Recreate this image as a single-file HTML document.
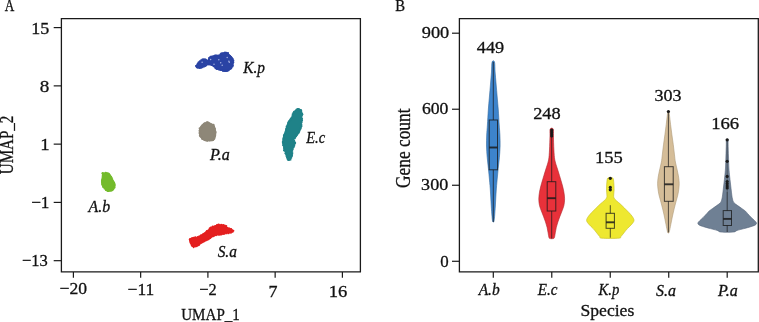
<!DOCTYPE html><html><head><meta charset="utf-8"><style>html,body{margin:0;padding:0;background:#fff;width:759px;height:322px;overflow:hidden}svg{display:block}text{font-family:"Liberation Serif",serif;fill:#111;stroke:#111;stroke-width:0.3px}</style></head><body>
<svg style="will-change:transform" width="759" height="322" viewBox="0 0 759 322">
<path d="M195.40,66.02 C195.48,65.44 196.02,64.78 196.52,64.16 C197.01,63.54 197.68,62.99 198.38,62.29 C199.08,61.60 199.93,60.51 200.71,59.97 C201.48,59.42 202.26,59.11 203.04,59.04 C203.81,58.96 204.66,59.35 205.36,59.50 C206.06,59.66 206.68,60.28 207.23,59.97 C207.77,59.66 208.00,58.26 208.62,57.64 C209.24,57.02 210.10,56.63 210.95,56.24 C211.80,55.85 212.89,55.54 213.74,55.31 C214.60,55.08 215.29,54.85 216.07,54.85 C216.85,54.85 217.62,55.47 218.40,55.31 C219.17,55.16 220.03,54.38 220.73,53.91 C221.42,53.45 221.81,52.83 222.59,52.52 C223.36,52.21 224.45,51.97 225.38,52.05 C226.31,52.13 227.40,52.52 228.18,52.98 C228.95,53.45 229.42,54.22 230.04,54.85 C230.66,55.47 231.36,56.01 231.90,56.71 C232.44,57.41 232.99,58.10 233.30,59.04 C233.61,59.97 233.76,61.21 233.76,62.29 C233.76,63.38 233.68,64.54 233.30,65.55 C232.91,66.56 232.21,67.49 231.43,68.35 C230.66,69.20 229.49,70.13 228.64,70.67 C227.79,71.22 227.17,71.53 226.31,71.61 C225.46,71.68 224.45,71.34 223.52,71.14 C222.59,70.94 221.66,70.63 220.73,70.39 C219.80,70.16 218.79,70.01 217.93,69.74 C217.08,69.48 216.23,69.20 215.61,68.81 C214.98,68.42 214.75,67.88 214.21,67.42 C213.67,66.95 213.04,66.41 212.35,66.02 C211.65,65.63 210.79,65.32 210.02,65.09 C209.24,64.85 208.31,64.54 207.69,64.62 C207.07,64.70 206.91,65.17 206.29,65.55 C205.67,65.94 204.82,66.56 203.97,66.95 C203.11,67.34 202.10,67.65 201.17,67.88 C200.24,68.11 199.23,68.39 198.38,68.35 C197.53,68.30 196.55,67.99 196.05,67.60 C195.56,67.21 195.32,66.59 195.40,66.02Z" fill="#2a43a4"/>
<g fill="#2a43a4"><circle cx="195.9" cy="65.9" r="0.9"/><circle cx="197.3" cy="64.1" r="0.8"/><circle cx="198.1" cy="63.2" r="0.9"/><circle cx="198.6" cy="62.3" r="1.0"/><circle cx="199.8" cy="61.2" r="1.0"/><circle cx="201.0" cy="60.0" r="0.8"/><circle cx="202.4" cy="59.6" r="1.1"/><circle cx="203.3" cy="59.1" r="0.9"/><circle cx="204.9" cy="59.5" r="1.2"/><circle cx="206.0" cy="59.7" r="1.0"/><circle cx="208.3" cy="60.3" r="0.8"/><circle cx="208.8" cy="59.3" r="0.9"/><circle cx="208.9" cy="57.8" r="0.8"/><circle cx="210.1" cy="57.3" r="1.1"/><circle cx="211.1" cy="56.6" r="1.0"/><circle cx="212.6" cy="56.5" r="0.9"/><circle cx="213.8" cy="56.0" r="0.8"/><circle cx="214.9" cy="55.3" r="0.9"/><circle cx="215.9" cy="55.6" r="1.0"/><circle cx="217.1" cy="55.5" r="1.0"/><circle cx="218.1" cy="55.9" r="0.9"/><circle cx="219.1" cy="55.4" r="1.1"/><circle cx="220.5" cy="54.3" r="1.0"/><circle cx="221.3" cy="53.8" r="1.2"/><circle cx="222.1" cy="53.2" r="0.9"/><circle cx="223.3" cy="53.1" r="0.8"/><circle cx="225.0" cy="52.5" r="1.1"/><circle cx="226.5" cy="52.7" r="1.0"/><circle cx="228.0" cy="53.1" r="1.1"/><circle cx="228.3" cy="54.4" r="1.0"/><circle cx="229.2" cy="55.3" r="0.9"/><circle cx="230.2" cy="56.1" r="1.0"/><circle cx="231.2" cy="56.9" r="1.0"/><circle cx="231.7" cy="58.1" r="1.2"/><circle cx="232.7" cy="59.1" r="1.1"/><circle cx="233.3" cy="60.7" r="1.1"/><circle cx="233.0" cy="62.3" r="1.2"/><circle cx="232.6" cy="63.8" r="0.9"/><circle cx="232.8" cy="65.5" r="1.1"/><circle cx="232.5" cy="66.4" r="1.0"/><circle cx="231.7" cy="67.3" r="0.8"/><circle cx="231.2" cy="68.3" r="1.1"/><circle cx="230.2" cy="69.0" r="0.9"/><circle cx="229.1" cy="69.6" r="1.1"/><circle cx="228.4" cy="70.5" r="1.0"/><circle cx="226.9" cy="70.7" r="1.2"/><circle cx="225.6" cy="71.0" r="1.1"/><circle cx="224.6" cy="71.1" r="1.0"/><circle cx="223.1" cy="70.8" r="1.2"/><circle cx="221.4" cy="70.0" r="0.9"/><circle cx="220.5" cy="70.1" r="0.9"/><circle cx="219.1" cy="69.7" r="1.0"/><circle cx="217.6" cy="69.1" r="0.9"/><circle cx="216.7" cy="69.1" r="1.0"/><circle cx="215.5" cy="68.3" r="1.0"/><circle cx="214.3" cy="66.4" r="1.1"/><circle cx="213.5" cy="66.1" r="1.0"/><circle cx="212.8" cy="65.4" r="0.8"/><circle cx="211.9" cy="64.9" r="1.1"/><circle cx="210.9" cy="64.6" r="1.1"/><circle cx="209.4" cy="64.6" r="1.0"/><circle cx="208.0" cy="64.5" r="1.1"/><circle cx="206.5" cy="65.5" r="0.8"/><circle cx="205.5" cy="66.1" r="0.9"/><circle cx="204.4" cy="66.8" r="0.8"/><circle cx="202.8" cy="67.3" r="0.9"/><circle cx="201.4" cy="67.8" r="0.9"/><circle cx="200.0" cy="68.0" r="1.1"/><circle cx="199.1" cy="68.1" r="0.9"/><circle cx="197.6" cy="67.8" r="0.9"/><circle cx="196.6" cy="67.5" r="0.8"/></g>
<path d="M207.50,121.50 C208.41,121.50 208.93,122.48 209.76,122.85 C210.58,123.23 211.63,123.23 212.46,123.75 C213.28,124.28 214.18,125.03 214.71,126.00 C215.23,126.98 215.38,128.40 215.61,129.60 C215.83,130.81 216.06,132.01 216.06,133.21 C216.06,134.41 215.91,135.68 215.61,136.81 C215.31,137.93 215.01,139.24 214.26,139.96 C213.51,140.68 212.23,140.90 211.11,141.13 C209.98,141.35 208.71,141.40 207.50,141.31 C206.30,141.22 204.95,141.04 203.90,140.59 C202.85,140.14 201.95,139.46 201.20,138.61 C200.45,137.75 199.78,136.58 199.40,135.46 C199.03,134.33 198.95,133.06 198.95,131.86 C198.95,130.66 198.95,129.38 199.40,128.25 C199.85,127.13 200.83,126.00 201.65,125.10 C202.48,124.20 203.38,123.45 204.35,122.85 C205.33,122.25 206.60,121.50 207.50,121.50Z" fill="#8e8778"/>
<g fill="#8e8778"><circle cx="207.5" cy="122.5" r="1.2"/><circle cx="208.6" cy="122.8" r="1.0"/><circle cx="209.7" cy="123.1" r="0.8"/><circle cx="210.9" cy="123.8" r="0.9"/><circle cx="212.0" cy="124.6" r="0.9"/><circle cx="213.4" cy="125.0" r="1.2"/><circle cx="214.2" cy="126.4" r="0.9"/><circle cx="214.4" cy="127.6" r="0.8"/><circle cx="214.7" cy="128.7" r="1.2"/><circle cx="214.7" cy="129.9" r="1.1"/><circle cx="215.3" cy="130.9" r="0.9"/><circle cx="215.6" cy="132.0" r="1.1"/><circle cx="215.4" cy="133.1" r="1.1"/><circle cx="215.4" cy="134.2" r="0.9"/><circle cx="214.9" cy="135.2" r="1.2"/><circle cx="214.8" cy="136.3" r="1.1"/><circle cx="214.4" cy="137.3" r="1.1"/><circle cx="214.4" cy="138.6" r="1.0"/><circle cx="213.9" cy="139.5" r="0.8"/><circle cx="213.1" cy="140.2" r="0.9"/><circle cx="212.0" cy="140.3" r="1.1"/><circle cx="210.8" cy="140.1" r="1.0"/><circle cx="209.7" cy="140.2" r="1.2"/><circle cx="208.6" cy="140.2" r="0.9"/><circle cx="207.5" cy="140.9" r="0.9"/><circle cx="206.4" cy="140.7" r="0.9"/><circle cx="205.3" cy="140.1" r="1.2"/><circle cx="204.3" cy="139.7" r="1.0"/><circle cx="203.4" cy="139.2" r="1.1"/><circle cx="202.3" cy="139.0" r="1.1"/><circle cx="201.9" cy="137.9" r="1.1"/><circle cx="201.3" cy="137.0" r="1.0"/><circle cx="200.3" cy="136.3" r="1.1"/><circle cx="199.9" cy="135.3" r="1.1"/><circle cx="200.3" cy="133.9" r="1.0"/><circle cx="199.7" cy="133.0" r="1.2"/><circle cx="199.8" cy="131.8" r="0.9"/><circle cx="199.4" cy="130.7" r="0.9"/><circle cx="200.2" cy="129.7" r="1.1"/><circle cx="199.7" cy="128.4" r="1.1"/><circle cx="201.1" cy="127.7" r="1.1"/><circle cx="201.3" cy="126.5" r="1.0"/><circle cx="201.9" cy="125.3" r="0.8"/><circle cx="203.2" cy="125.2" r="1.1"/><circle cx="203.8" cy="124.2" r="1.2"/><circle cx="204.6" cy="123.4" r="1.1"/><circle cx="205.6" cy="123.3" r="0.9"/><circle cx="206.5" cy="122.4" r="0.9"/></g>
<path d="M298.90,108.60 C299.62,108.75 300.43,109.03 301.00,109.90 C301.57,110.77 302.15,112.57 302.30,113.80 C302.45,115.03 301.90,116.28 301.90,117.30 C301.90,118.32 302.37,118.88 302.30,119.90 C302.23,120.92 301.57,122.38 301.50,123.40 C301.43,124.42 302.05,124.98 301.90,126.00 C301.75,127.02 301.03,128.42 300.60,129.50 C300.17,130.58 299.82,131.62 299.30,132.50 C298.78,133.38 298.03,133.95 297.50,134.80 C296.97,135.65 296.72,136.75 296.10,137.60 C295.48,138.45 293.95,138.97 293.80,139.90 C293.65,140.83 295.12,142.18 295.20,143.20 C295.28,144.22 294.62,145.15 294.30,146.00 C293.98,146.85 293.68,147.53 293.30,148.30 C292.92,149.07 292.15,149.75 292.00,150.60 C291.85,151.45 292.40,152.32 292.40,153.40 C292.40,154.48 292.30,156.02 292.00,157.10 C291.70,158.18 291.15,159.28 290.60,159.90 C290.05,160.52 289.25,160.95 288.70,160.80 C288.15,160.65 287.68,159.77 287.30,159.00 C286.92,158.23 286.78,157.28 286.40,156.20 C286.02,155.12 285.40,153.43 285.00,152.50 C284.60,151.57 284.23,151.38 284.00,150.60 C283.77,149.82 283.82,148.88 283.60,147.80 C283.38,146.72 282.85,145.33 282.70,144.10 C282.55,142.87 282.63,141.63 282.70,140.40 C282.77,139.17 282.85,137.85 283.10,136.70 C283.35,135.55 283.82,134.70 284.20,133.50 C284.58,132.30 284.98,130.90 285.40,129.50 C285.82,128.10 286.20,126.48 286.70,125.10 C287.20,123.72 287.82,122.22 288.40,121.20 C288.98,120.18 289.55,119.93 290.20,119.00 C290.85,118.07 291.80,116.68 292.30,115.60 C292.80,114.52 292.47,113.60 293.20,112.50 C293.93,111.40 295.75,109.65 296.70,109.00 C297.65,108.35 298.18,108.45 298.90,108.60Z" fill="#1f8288"/>
<g fill="#1f8288"><circle cx="298.8" cy="109.0" r="1.0"/><circle cx="299.8" cy="109.7" r="1.0"/><circle cx="300.9" cy="110.2" r="1.2"/><circle cx="301.3" cy="111.7" r="1.0"/><circle cx="301.6" cy="113.2" r="1.2"/><circle cx="302.1" cy="114.3" r="1.2"/><circle cx="301.9" cy="115.6" r="1.0"/><circle cx="301.7" cy="116.7" r="0.8"/><circle cx="301.6" cy="117.8" r="0.9"/><circle cx="302.0" cy="118.8" r="1.1"/><circle cx="302.1" cy="120.2" r="1.0"/><circle cx="301.6" cy="121.8" r="1.0"/><circle cx="301.5" cy="122.6" r="1.0"/><circle cx="301.1" cy="124.0" r="1.1"/><circle cx="301.5" cy="124.9" r="1.0"/><circle cx="301.6" cy="126.3" r="0.9"/><circle cx="300.8" cy="127.8" r="1.0"/><circle cx="300.5" cy="128.8" r="1.1"/><circle cx="299.8" cy="130.1" r="1.0"/><circle cx="299.3" cy="131.4" r="1.0"/><circle cx="298.7" cy="132.7" r="1.1"/><circle cx="297.8" cy="133.8" r="1.0"/><circle cx="296.9" cy="134.8" r="1.2"/><circle cx="296.0" cy="136.0" r="1.2"/><circle cx="295.2" cy="137.0" r="0.9"/><circle cx="294.5" cy="138.2" r="1.2"/><circle cx="293.5" cy="139.0" r="0.9"/><circle cx="294.2" cy="140.7" r="1.0"/><circle cx="294.6" cy="141.8" r="0.9"/><circle cx="295.1" cy="142.9" r="1.1"/><circle cx="294.5" cy="143.7" r="1.2"/><circle cx="294.2" cy="145.7" r="1.1"/><circle cx="293.7" cy="146.4" r="0.9"/><circle cx="293.2" cy="147.3" r="1.2"/><circle cx="292.6" cy="149.1" r="1.2"/><circle cx="292.0" cy="150.0" r="1.0"/><circle cx="292.2" cy="150.9" r="1.1"/><circle cx="292.4" cy="153.1" r="1.0"/><circle cx="292.3" cy="154.0" r="0.9"/><circle cx="292.1" cy="155.5" r="0.9"/><circle cx="292.0" cy="156.3" r="0.8"/><circle cx="291.3" cy="157.8" r="1.0"/><circle cx="290.6" cy="159.7" r="0.9"/><circle cx="288.8" cy="160.0" r="1.0"/><circle cx="288.0" cy="159.6" r="1.2"/><circle cx="287.5" cy="158.1" r="1.2"/><circle cx="286.9" cy="157.3" r="0.9"/><circle cx="286.5" cy="156.0" r="1.1"/><circle cx="286.1" cy="154.5" r="0.9"/><circle cx="285.7" cy="153.2" r="1.2"/><circle cx="285.4" cy="151.6" r="0.9"/><circle cx="284.2" cy="150.3" r="1.2"/><circle cx="284.2" cy="148.6" r="1.1"/><circle cx="283.8" cy="147.6" r="0.8"/><circle cx="283.8" cy="145.9" r="1.0"/><circle cx="283.2" cy="145.1" r="1.2"/><circle cx="283.3" cy="143.6" r="1.1"/><circle cx="282.9" cy="142.7" r="1.1"/><circle cx="282.9" cy="141.5" r="1.1"/><circle cx="283.2" cy="140.1" r="0.9"/><circle cx="283.5" cy="138.9" r="1.2"/><circle cx="283.4" cy="137.8" r="0.9"/><circle cx="283.8" cy="136.6" r="0.9"/><circle cx="283.8" cy="135.6" r="0.9"/><circle cx="284.1" cy="134.6" r="0.9"/><circle cx="284.7" cy="133.6" r="0.9"/><circle cx="285.4" cy="132.5" r="0.9"/><circle cx="285.6" cy="131.2" r="0.9"/><circle cx="285.8" cy="129.8" r="0.8"/><circle cx="286.0" cy="128.7" r="0.8"/><circle cx="286.6" cy="128.0" r="1.0"/><circle cx="286.6" cy="126.5" r="1.0"/><circle cx="287.2" cy="126.0" r="0.8"/><circle cx="287.7" cy="124.7" r="1.0"/><circle cx="288.1" cy="123.1" r="1.1"/><circle cx="288.6" cy="121.7" r="1.0"/><circle cx="289.5" cy="120.9" r="1.2"/><circle cx="290.3" cy="119.5" r="1.1"/><circle cx="291.0" cy="118.7" r="1.1"/><circle cx="291.6" cy="117.3" r="0.9"/><circle cx="292.3" cy="115.8" r="0.9"/><circle cx="292.7" cy="114.3" r="1.1"/><circle cx="293.2" cy="112.9" r="0.9"/><circle cx="294.1" cy="111.9" r="1.1"/><circle cx="294.8" cy="111.7" r="1.1"/><circle cx="295.8" cy="110.3" r="0.9"/><circle cx="296.6" cy="109.5" r="1.0"/><circle cx="297.7" cy="109.1" r="1.0"/></g>
<path d="M102.52,172.78 C103.10,172.45 104.48,172.45 105.57,172.52 C106.65,172.59 108.25,172.74 109.04,173.22 C109.84,173.70 109.84,174.67 110.35,175.39 C110.86,176.12 111.58,176.77 112.09,177.57 C112.59,178.36 112.96,179.30 113.39,180.17 C113.83,181.04 114.33,181.99 114.70,182.78 C115.06,183.58 115.57,184.16 115.57,184.96 C115.57,185.75 114.99,186.77 114.70,187.57 C114.41,188.36 114.41,189.12 113.83,189.74 C113.25,190.36 112.16,190.99 111.22,191.30 C110.28,191.62 109.12,191.77 108.17,191.65 C107.23,191.54 106.22,191.07 105.57,190.61 C104.91,190.14 104.70,189.45 104.26,188.87 C103.83,188.29 103.39,187.78 102.96,187.13 C102.52,186.48 101.94,185.75 101.65,184.96 C101.36,184.16 101.26,183.29 101.22,182.35 C101.17,181.41 101.22,180.25 101.39,179.30 C101.57,178.36 102.14,177.49 102.26,176.70 C102.38,175.90 102.04,175.17 102.09,174.52 C102.13,173.87 101.94,173.12 102.52,172.78Z" fill="#74bb2c"/>
<g fill="#74bb2c"><circle cx="102.7" cy="173.2" r="1.2"/><circle cx="104.4" cy="173.7" r="1.0"/><circle cx="105.7" cy="172.9" r="1.2"/><circle cx="106.8" cy="173.2" r="0.9"/><circle cx="107.9" cy="173.2" r="1.0"/><circle cx="108.9" cy="173.8" r="1.0"/><circle cx="109.6" cy="174.7" r="1.0"/><circle cx="110.3" cy="175.6" r="0.9"/><circle cx="111.1" cy="176.7" r="1.0"/><circle cx="111.9" cy="177.7" r="0.8"/><circle cx="112.3" cy="179.1" r="0.9"/><circle cx="112.7" cy="180.4" r="1.0"/><circle cx="113.2" cy="181.6" r="1.1"/><circle cx="113.9" cy="182.7" r="1.2"/><circle cx="114.6" cy="183.8" r="0.9"/><circle cx="114.5" cy="184.6" r="0.9"/><circle cx="114.4" cy="185.9" r="1.1"/><circle cx="114.5" cy="187.4" r="1.1"/><circle cx="113.5" cy="188.0" r="1.1"/><circle cx="113.3" cy="189.1" r="1.1"/><circle cx="112.4" cy="190.2" r="1.0"/><circle cx="111.0" cy="190.7" r="1.1"/><circle cx="109.5" cy="190.6" r="1.1"/><circle cx="108.1" cy="190.9" r="1.2"/><circle cx="106.9" cy="190.3" r="1.1"/><circle cx="105.7" cy="190.2" r="0.8"/><circle cx="104.4" cy="188.6" r="0.9"/><circle cx="103.2" cy="186.9" r="1.1"/><circle cx="102.9" cy="185.6" r="1.1"/><circle cx="102.3" cy="184.6" r="1.1"/><circle cx="102.1" cy="183.5" r="0.8"/><circle cx="102.1" cy="182.3" r="1.1"/><circle cx="101.9" cy="181.0" r="1.0"/><circle cx="102.1" cy="179.6" r="0.8"/><circle cx="102.5" cy="178.5" r="0.9"/><circle cx="102.4" cy="176.9" r="0.9"/><circle cx="102.6" cy="175.2" r="0.9"/></g>
<path d="M189.30,239.50 C189.68,239.03 190.60,238.48 191.60,238.10 C192.60,237.72 194.22,237.43 195.30,237.20 C196.38,236.97 197.10,237.08 198.10,236.70 C199.10,236.32 200.45,235.43 201.30,234.90 C202.15,234.37 202.50,234.05 203.20,233.50 C203.90,232.95 204.57,232.30 205.50,231.60 C206.43,230.90 207.93,230.07 208.80,229.30 C209.67,228.53 210.05,227.52 210.70,227.00 C211.35,226.48 211.90,226.50 212.70,226.20 C213.50,225.90 214.70,225.52 215.50,225.20 C216.30,224.88 216.72,224.42 217.50,224.30 C218.28,224.18 219.17,224.42 220.20,224.50 C221.23,224.58 222.67,224.57 223.70,224.80 C224.73,225.03 225.62,225.43 226.40,225.90 C227.18,226.37 227.72,227.22 228.40,227.60 C229.08,227.98 229.82,227.92 230.50,228.20 C231.18,228.48 231.93,228.90 232.50,229.30 C233.07,229.70 233.78,230.15 233.90,230.60 C234.02,231.05 233.65,231.65 233.20,232.00 C232.75,232.35 231.88,232.53 231.20,232.70 C230.52,232.87 229.78,232.88 229.10,233.00 C228.42,233.12 227.90,233.28 227.10,233.40 C226.30,233.52 225.22,233.53 224.30,233.70 C223.38,233.87 222.50,234.17 221.60,234.40 C220.70,234.63 219.70,234.93 218.90,235.10 C218.10,235.27 217.48,235.23 216.80,235.40 C216.12,235.57 215.40,235.83 214.80,236.10 C214.20,236.37 213.82,236.73 213.20,237.00 C212.58,237.27 211.92,237.20 211.10,237.70 C210.28,238.20 209.38,239.47 208.30,240.00 C207.22,240.53 205.68,240.43 204.60,240.90 C203.52,241.37 202.73,242.17 201.80,242.80 C200.87,243.43 199.93,244.08 199.00,244.70 C198.07,245.32 197.13,246.05 196.20,246.50 C195.27,246.95 194.17,247.40 193.40,247.40 C192.63,247.40 192.13,247.18 191.60,246.50 C191.07,245.82 190.58,244.23 190.20,243.30 C189.82,242.37 189.45,241.53 189.30,240.90 C189.15,240.27 188.92,239.97 189.30,239.50Z" fill="#e41f1f"/>
<g fill="#e41f1f"><circle cx="190.1" cy="239.3" r="1.2"/><circle cx="191.1" cy="238.7" r="1.0"/><circle cx="192.2" cy="238.0" r="1.1"/><circle cx="193.7" cy="237.7" r="1.0"/><circle cx="194.8" cy="237.4" r="0.8"/><circle cx="195.6" cy="237.1" r="0.9"/><circle cx="197.6" cy="236.8" r="0.9"/><circle cx="198.8" cy="236.6" r="0.8"/><circle cx="199.4" cy="236.1" r="0.9"/><circle cx="201.0" cy="235.4" r="1.1"/><circle cx="202.1" cy="234.9" r="0.9"/><circle cx="202.9" cy="234.2" r="1.0"/><circle cx="203.8" cy="233.6" r="0.8"/><circle cx="205.3" cy="232.8" r="0.9"/><circle cx="206.5" cy="232.1" r="1.2"/><circle cx="206.8" cy="231.0" r="1.0"/><circle cx="208.3" cy="230.8" r="1.2"/><circle cx="209.1" cy="229.8" r="0.9"/><circle cx="209.9" cy="228.5" r="1.2"/><circle cx="210.8" cy="227.4" r="1.0"/><circle cx="212.7" cy="226.5" r="1.0"/><circle cx="213.8" cy="226.7" r="0.9"/><circle cx="215.2" cy="226.1" r="1.0"/><circle cx="217.0" cy="225.2" r="1.1"/><circle cx="218.6" cy="224.7" r="1.2"/><circle cx="219.8" cy="225.0" r="0.8"/><circle cx="221.2" cy="224.7" r="1.0"/><circle cx="222.1" cy="225.1" r="0.9"/><circle cx="223.4" cy="225.0" r="0.9"/><circle cx="224.7" cy="225.6" r="1.1"/><circle cx="226.2" cy="226.0" r="1.1"/><circle cx="226.5" cy="227.2" r="0.8"/><circle cx="227.4" cy="228.0" r="1.1"/><circle cx="229.5" cy="228.5" r="0.9"/><circle cx="231.0" cy="228.9" r="1.0"/><circle cx="231.4" cy="229.6" r="1.0"/><circle cx="233.4" cy="230.7" r="1.0"/><circle cx="232.8" cy="232.1" r="0.8"/><circle cx="230.9" cy="232.7" r="1.1"/><circle cx="228.6" cy="233.0" r="1.2"/><circle cx="226.7" cy="233.4" r="0.9"/><circle cx="225.0" cy="233.6" r="0.9"/><circle cx="223.8" cy="233.7" r="1.2"/><circle cx="222.0" cy="234.1" r="1.1"/><circle cx="220.8" cy="234.4" r="1.2"/><circle cx="219.2" cy="234.7" r="1.0"/><circle cx="218.1" cy="235.0" r="0.8"/><circle cx="216.0" cy="235.3" r="1.0"/><circle cx="214.0" cy="235.7" r="1.1"/><circle cx="213.0" cy="236.6" r="0.8"/><circle cx="212.0" cy="236.3" r="0.9"/><circle cx="211.2" cy="237.1" r="0.9"/><circle cx="210.3" cy="238.0" r="1.1"/><circle cx="209.8" cy="238.3" r="0.9"/><circle cx="208.7" cy="239.3" r="0.9"/><circle cx="207.5" cy="239.8" r="1.0"/><circle cx="206.1" cy="240.4" r="0.9"/><circle cx="204.9" cy="240.6" r="1.2"/><circle cx="204.2" cy="241.1" r="0.9"/><circle cx="203.5" cy="241.5" r="1.2"/><circle cx="202.3" cy="242.4" r="0.9"/><circle cx="201.2" cy="243.2" r="0.8"/><circle cx="200.3" cy="243.7" r="0.8"/><circle cx="199.3" cy="244.4" r="0.9"/><circle cx="198.6" cy="244.9" r="1.2"/><circle cx="197.8" cy="245.4" r="1.0"/><circle cx="196.7" cy="246.2" r="1.0"/><circle cx="195.2" cy="246.6" r="0.9"/><circle cx="193.6" cy="247.3" r="0.9"/><circle cx="192.5" cy="246.0" r="0.9"/><circle cx="191.7" cy="245.1" r="1.1"/><circle cx="191.6" cy="244.0" r="0.9"/><circle cx="190.6" cy="243.1" r="0.9"/><circle cx="190.3" cy="241.9" r="1.0"/><circle cx="190.3" cy="240.6" r="1.1"/></g>
<g fill="#b8c2ea" fill-opacity="0.85"><circle cx="202.1" cy="62.3" r="0.75"/><circle cx="210.6" cy="59.6" r="0.75"/><circle cx="218.8" cy="59.7" r="0.75"/><circle cx="220.7" cy="62.7" r="0.75"/><circle cx="222.2" cy="65.3" r="0.75"/><circle cx="227.2" cy="57.5" r="0.75"/><circle cx="228.9" cy="61.2" r="0.75"/><circle cx="229.3" cy="62.3" r="0.75"/><circle cx="214" cy="64.2" r="0.75"/></g>
<path d="M61.4,18.6 H360.4 V271.9 H61.4 Z" fill="none" stroke="#1a1a1a" stroke-width="1.3"/>
<line x1="53.7" y1="27.60" x2="61.4" y2="27.60" stroke="#1a1a1a" stroke-width="1.2"/>
<line x1="53.7" y1="85.87" x2="61.4" y2="85.87" stroke="#1a1a1a" stroke-width="1.2"/>
<line x1="53.7" y1="144.14" x2="61.4" y2="144.14" stroke="#1a1a1a" stroke-width="1.2"/>
<line x1="53.7" y1="202.41" x2="61.4" y2="202.41" stroke="#1a1a1a" stroke-width="1.2"/>
<line x1="53.7" y1="260.68" x2="61.4" y2="260.68" stroke="#1a1a1a" stroke-width="1.2"/>
<line x1="73.40" y1="271.9" x2="73.40" y2="277.8" stroke="#1a1a1a" stroke-width="1.2"/>
<line x1="140.65" y1="271.9" x2="140.65" y2="277.8" stroke="#1a1a1a" stroke-width="1.2"/>
<line x1="207.90" y1="271.9" x2="207.90" y2="277.8" stroke="#1a1a1a" stroke-width="1.2"/>
<line x1="275.15" y1="271.9" x2="275.15" y2="277.8" stroke="#1a1a1a" stroke-width="1.2"/>
<line x1="342.40" y1="271.9" x2="342.40" y2="277.8" stroke="#1a1a1a" stroke-width="1.2"/>
<path d="M494.50,62.00 C495.00,63.67 494.83,68.33 495.10,72.00 C495.37,75.67 495.75,79.83 496.10,84.00 C496.45,88.17 496.83,92.67 497.20,97.00 C497.57,101.33 497.97,105.33 498.30,110.00 C498.63,114.67 498.93,120.83 499.20,125.00 C499.47,129.17 499.75,131.50 499.90,135.00 C500.05,138.50 500.18,142.27 500.10,146.00 C500.02,149.73 499.72,153.63 499.40,157.40 C499.08,161.17 498.58,164.83 498.20,168.60 C497.82,172.37 497.43,176.27 497.10,180.00 C496.77,183.73 496.48,186.83 496.20,191.00 C495.92,195.17 495.67,200.78 495.40,205.00 C495.13,209.22 494.85,213.55 494.60,216.30 C494.35,219.05 494.22,220.63 493.90,221.50 C493.58,222.37 493.02,222.37 492.70,221.50 C492.38,220.63 492.25,219.05 492.00,216.30 C491.75,213.55 491.47,209.22 491.20,205.00 C490.93,200.78 490.68,195.17 490.40,191.00 C490.12,186.83 489.83,183.73 489.50,180.00 C489.17,176.27 488.78,172.37 488.40,168.60 C488.02,164.83 487.52,161.17 487.20,157.40 C486.88,153.63 486.58,149.73 486.50,146.00 C486.42,142.27 486.55,138.50 486.70,135.00 C486.85,131.50 487.13,129.17 487.40,125.00 C487.67,120.83 487.97,114.67 488.30,110.00 C488.63,105.33 489.03,101.33 489.40,97.00 C489.77,92.67 490.15,88.17 490.50,84.00 C490.85,79.83 491.23,75.67 491.50,72.00 C491.77,68.33 491.60,63.67 492.10,62.00 C492.60,60.33 494.00,60.33 494.50,62.00Z" fill="#3d84cc" stroke="#33689c" stroke-width="0.6"/>
<line x1="493.3" y1="62" x2="493.3" y2="222" stroke="#1a1a1a" stroke-width="0.9" stroke-opacity="0.8"/>
<rect x="489.2" y="120" width="8.300000000000011" height="49.80000000000001" fill="#3d84cc" stroke="#1a1a1a" stroke-width="1" stroke-opacity="0.8"/>
<line x1="489.2" y1="147.5" x2="497.5" y2="147.5" stroke="#1a1a1a" stroke-width="1.9" stroke-opacity="0.85"/>
<path d="M553.20,129.00 C553.73,130.17 553.28,132.50 553.40,136.00 C553.52,139.50 553.67,146.00 553.90,150.00 C554.13,154.00 554.27,157.03 554.80,160.00 C555.33,162.97 556.32,165.22 557.10,167.80 C557.88,170.38 558.72,172.92 559.50,175.50 C560.28,178.08 561.10,180.72 561.80,183.30 C562.50,185.88 563.23,188.42 563.70,191.00 C564.17,193.58 564.57,196.38 564.60,198.80 C564.63,201.22 564.33,203.47 563.90,205.50 C563.47,207.53 562.67,209.18 562.00,211.00 C561.33,212.82 560.58,214.58 559.90,216.40 C559.22,218.22 558.50,220.07 557.90,221.90 C557.30,223.73 556.73,225.58 556.30,227.40 C555.87,229.22 555.62,231.10 555.30,232.80 C554.98,234.50 554.75,236.63 554.40,237.60 C554.05,238.57 553.90,238.43 553.20,238.60 C552.50,238.77 550.90,238.77 550.20,238.60 C549.50,238.43 549.35,238.57 549.00,237.60 C548.65,236.63 548.42,234.50 548.10,232.80 C547.78,231.10 547.53,229.22 547.10,227.40 C546.67,225.58 546.10,223.73 545.50,221.90 C544.90,220.07 544.18,218.22 543.50,216.40 C542.82,214.58 542.07,212.82 541.40,211.00 C540.73,209.18 539.93,207.53 539.50,205.50 C539.07,203.47 538.77,201.22 538.80,198.80 C538.83,196.38 539.23,193.58 539.70,191.00 C540.17,188.42 540.90,185.88 541.60,183.30 C542.30,180.72 543.12,178.08 543.90,175.50 C544.68,172.92 545.52,170.38 546.30,167.80 C547.08,165.22 548.07,162.97 548.60,160.00 C549.13,157.03 549.27,154.00 549.50,150.00 C549.73,146.00 549.88,139.50 550.00,136.00 C550.12,132.50 549.67,130.17 550.20,129.00 C550.73,127.83 552.67,127.83 553.20,129.00Z" fill="#e8313a" stroke="#b0252b" stroke-width="0.6"/>
<line x1="551.7" y1="136" x2="551.7" y2="238.5" stroke="#1a1a1a" stroke-width="0.9" stroke-opacity="0.8"/>
<rect x="547.2" y="181.7" width="8.599999999999909" height="29.30000000000001" fill="#e8313a" stroke="#1a1a1a" stroke-width="1" stroke-opacity="0.8"/>
<line x1="547.2" y1="198.2" x2="555.8" y2="198.2" stroke="#1a1a1a" stroke-width="1.9" stroke-opacity="0.85"/>
<circle cx="551.7" cy="130" r="1.6" fill="#1a1a1a"/>
<circle cx="551.7" cy="132" r="1.6" fill="#1a1a1a"/>
<circle cx="551.7" cy="134" r="1.6" fill="#1a1a1a"/>
<circle cx="551.7" cy="136" r="1.6" fill="#1a1a1a"/>
<path d="M611.90,177.60 C612.67,177.83 612.97,177.93 613.30,179.00 C613.63,180.07 613.77,182.17 613.90,184.00 C614.03,185.83 614.13,188.17 614.10,190.00 C614.07,191.83 613.72,193.67 613.70,195.00 C613.68,196.33 613.53,197.03 614.00,198.00 C614.47,198.97 615.48,199.83 616.50,200.80 C617.52,201.77 618.77,202.58 620.10,203.80 C621.43,205.02 623.03,206.65 624.50,208.10 C625.97,209.55 627.55,211.03 628.90,212.50 C630.25,213.97 631.75,215.55 632.60,216.90 C633.45,218.25 634.13,219.38 634.00,220.60 C633.87,221.82 632.90,222.87 631.80,224.20 C630.70,225.53 628.73,227.13 627.40,228.60 C626.07,230.07 624.88,231.67 623.80,233.00 C622.72,234.33 621.73,235.73 620.90,236.60 C620.07,237.47 621.98,237.93 618.80,238.20 C615.62,238.47 604.98,238.47 601.80,238.20 C598.62,237.93 600.53,237.47 599.70,236.60 C598.87,235.73 597.88,234.33 596.80,233.00 C595.72,231.67 594.53,230.07 593.20,228.60 C591.87,227.13 589.90,225.53 588.80,224.20 C587.70,222.87 586.73,221.82 586.60,220.60 C586.47,219.38 587.15,218.25 588.00,216.90 C588.85,215.55 590.35,213.97 591.70,212.50 C593.05,211.03 594.63,209.55 596.10,208.10 C597.57,206.65 599.17,205.02 600.50,203.80 C601.83,202.58 603.08,201.77 604.10,200.80 C605.12,199.83 606.13,198.97 606.60,198.00 C607.07,197.03 606.92,196.33 606.90,195.00 C606.88,193.67 606.53,191.83 606.50,190.00 C606.47,188.17 606.57,185.83 606.70,184.00 C606.83,182.17 606.97,180.07 607.30,179.00 C607.63,177.93 607.93,177.83 608.70,177.60 C609.47,177.37 611.13,177.37 611.90,177.60Z" fill="#eee830" stroke="#c4be22" stroke-width="0.6"/>
<line x1="610.3" y1="205.2" x2="610.3" y2="237.7" stroke="#1a1a1a" stroke-width="0.9" stroke-opacity="0.8"/>
<rect x="606.1" y="213.3" width="8.299999999999955" height="15.0" fill="#eee830" stroke="#1a1a1a" stroke-width="1" stroke-opacity="0.8"/>
<line x1="606.1" y1="222.3" x2="614.4" y2="222.3" stroke="#1a1a1a" stroke-width="1.9" stroke-opacity="0.85"/>
<circle cx="610.3" cy="178.3" r="1.6" fill="#1a1a1a"/>
<circle cx="610.3" cy="187.4" r="1.6" fill="#1a1a1a"/>
<circle cx="610.3" cy="189.8" r="1.6" fill="#1a1a1a"/>
<path d="M669.00,111.50 C669.27,112.03 669.13,112.50 669.40,114.70 C669.67,116.90 670.18,121.35 670.60,124.70 C671.02,128.05 671.45,131.45 671.90,134.80 C672.35,138.15 672.87,141.45 673.30,144.80 C673.73,148.15 674.15,152.03 674.50,154.90 C674.85,157.77 674.95,159.48 675.40,162.00 C675.85,164.52 676.67,167.50 677.20,170.00 C677.73,172.50 678.27,174.78 678.60,177.00 C678.93,179.22 679.17,181.30 679.20,183.30 C679.23,185.30 679.03,187.05 678.80,189.00 C678.57,190.95 678.28,192.83 677.80,195.00 C677.32,197.17 676.52,199.67 675.90,202.00 C675.28,204.33 674.67,206.67 674.10,209.00 C673.53,211.33 673.00,213.67 672.50,216.00 C672.00,218.33 671.57,220.67 671.10,223.00 C670.63,225.33 670.05,228.38 669.70,230.00 C669.35,231.62 669.32,232.25 669.00,232.70 C668.68,233.15 668.12,233.15 667.80,232.70 C667.48,232.25 667.45,231.62 667.10,230.00 C666.75,228.38 666.17,225.33 665.70,223.00 C665.23,220.67 664.80,218.33 664.30,216.00 C663.80,213.67 663.27,211.33 662.70,209.00 C662.13,206.67 661.52,204.33 660.90,202.00 C660.28,199.67 659.48,197.17 659.00,195.00 C658.52,192.83 658.23,190.95 658.00,189.00 C657.77,187.05 657.57,185.30 657.60,183.30 C657.63,181.30 657.87,179.22 658.20,177.00 C658.53,174.78 659.07,172.50 659.60,170.00 C660.13,167.50 660.95,164.52 661.40,162.00 C661.85,159.48 661.95,157.77 662.30,154.90 C662.65,152.03 663.07,148.15 663.50,144.80 C663.93,141.45 664.45,138.15 664.90,134.80 C665.35,131.45 665.78,128.05 666.20,124.70 C666.62,121.35 667.13,116.90 667.40,114.70 C667.67,112.50 667.53,112.03 667.80,111.50 C668.07,110.97 668.73,110.97 669.00,111.50Z" fill="#d5bd98" stroke="#ae9a78" stroke-width="0.6"/>
<line x1="668.4" y1="111.5" x2="668.4" y2="232.4" stroke="#1a1a1a" stroke-width="0.9" stroke-opacity="0.8"/>
<rect x="664.4" y="166.7" width="8.800000000000068" height="34.60000000000002" fill="#d5bd98" stroke="#1a1a1a" stroke-width="1" stroke-opacity="0.8"/>
<line x1="664.4" y1="184.3" x2="673.2" y2="184.3" stroke="#1a1a1a" stroke-width="1.9" stroke-opacity="0.85"/>
<circle cx="668.4" cy="111.5" r="1.6" fill="#1a1a1a"/>
<path d="M728.10,139.50 C728.40,140.25 728.03,141.08 728.10,144.00 C728.17,146.92 728.37,153.00 728.50,157.00 C728.63,161.00 728.72,164.83 728.90,168.00 C729.08,171.17 729.35,173.50 729.60,176.00 C729.85,178.50 730.15,180.83 730.40,183.00 C730.65,185.17 730.87,187.00 731.10,189.00 C731.33,191.00 731.57,193.33 731.80,195.00 C732.03,196.67 732.17,197.75 732.50,199.00 C732.83,200.25 732.93,201.40 733.80,202.50 C734.67,203.60 736.32,204.57 737.70,205.60 C739.08,206.63 740.80,207.77 742.10,208.70 C743.40,209.63 744.57,210.37 745.50,211.20 C746.43,212.03 746.75,212.67 747.70,213.70 C748.65,214.73 750.07,216.27 751.20,217.40 C752.33,218.53 753.62,219.57 754.50,220.50 C755.38,221.43 756.35,222.27 756.50,223.00 C756.65,223.73 756.35,224.28 755.40,224.90 C754.45,225.52 752.70,226.08 750.80,226.70 C748.90,227.32 746.27,227.98 744.00,228.60 C741.73,229.22 739.00,229.82 737.20,230.40 C735.40,230.98 735.87,231.82 733.20,232.10 C730.53,232.38 723.87,232.38 721.20,232.10 C718.53,231.82 719.00,230.98 717.20,230.40 C715.40,229.82 712.67,229.22 710.40,228.60 C708.13,227.98 705.50,227.32 703.60,226.70 C701.70,226.08 699.95,225.52 699.00,224.90 C698.05,224.28 697.75,223.73 697.90,223.00 C698.05,222.27 699.02,221.43 699.90,220.50 C700.78,219.57 702.07,218.53 703.20,217.40 C704.33,216.27 705.75,214.73 706.70,213.70 C707.65,212.67 707.97,212.03 708.90,211.20 C709.83,210.37 711.00,209.63 712.30,208.70 C713.60,207.77 715.32,206.63 716.70,205.60 C718.08,204.57 719.73,203.60 720.60,202.50 C721.47,201.40 721.57,200.25 721.90,199.00 C722.23,197.75 722.37,196.67 722.60,195.00 C722.83,193.33 723.07,191.00 723.30,189.00 C723.53,187.00 723.75,185.17 724.00,183.00 C724.25,180.83 724.55,178.50 724.80,176.00 C725.05,173.50 725.32,171.17 725.50,168.00 C725.68,164.83 725.77,161.00 725.90,157.00 C726.03,153.00 726.23,146.92 726.30,144.00 C726.37,141.08 726.00,140.25 726.30,139.50 C726.60,138.75 727.80,138.75 728.10,139.50Z" fill="#6f8094" stroke="#56657a" stroke-width="0.6"/>
<line x1="727.2" y1="192" x2="727.2" y2="232" stroke="#1a1a1a" stroke-width="0.9" stroke-opacity="0.8"/>
<rect x="723.2" y="210.6" width="8.299999999999955" height="14.900000000000006" fill="#6f8094" stroke="#1a1a1a" stroke-width="1" stroke-opacity="0.8"/>
<line x1="723.2" y1="218.9" x2="731.5" y2="218.9" stroke="#1a1a1a" stroke-width="1.9" stroke-opacity="0.85"/>
<circle cx="727.2" cy="139.8" r="1.6" fill="#1a1a1a"/>
<circle cx="727.2" cy="161.3" r="1.6" fill="#1a1a1a"/>
<circle cx="727.2" cy="176.4" r="1.6" fill="#1a1a1a"/>
<circle cx="727.2" cy="181.6" r="1.6" fill="#1a1a1a"/>
<circle cx="727.2" cy="183.8" r="1.6" fill="#1a1a1a"/>
<circle cx="727.2" cy="186" r="1.6" fill="#1a1a1a"/>
<circle cx="727.2" cy="188" r="1.6" fill="#1a1a1a"/>
<line x1="727.2" y1="140" x2="727.2" y2="192" stroke="#1a1a1a" stroke-width="0.9" stroke-opacity="0.45"/>
<line x1="551.7" y1="129" x2="551.7" y2="136" stroke="#1a1a1a" stroke-width="0.9" stroke-opacity="0.45"/>
<path d="M459.4,18.6 H758.3 V271.9 H459.4 Z" fill="none" stroke="#1a1a1a" stroke-width="1.3"/>
<line x1="452" y1="33.20" x2="459.4" y2="33.20" stroke="#1a1a1a" stroke-width="1.2"/>
<line x1="452" y1="109.23" x2="459.4" y2="109.23" stroke="#1a1a1a" stroke-width="1.2"/>
<line x1="452" y1="185.26" x2="459.4" y2="185.26" stroke="#1a1a1a" stroke-width="1.2"/>
<line x1="452" y1="261.29" x2="459.4" y2="261.29" stroke="#1a1a1a" stroke-width="1.2"/>
<line x1="493.30" y1="271.9" x2="493.30" y2="277.7" stroke="#1a1a1a" stroke-width="1.2"/>
<line x1="551.77" y1="271.9" x2="551.77" y2="277.7" stroke="#1a1a1a" stroke-width="1.2"/>
<line x1="610.25" y1="271.9" x2="610.25" y2="277.7" stroke="#1a1a1a" stroke-width="1.2"/>
<line x1="668.73" y1="271.9" x2="668.73" y2="277.7" stroke="#1a1a1a" stroke-width="1.2"/>
<line x1="727.20" y1="271.9" x2="727.20" y2="277.7" stroke="#1a1a1a" stroke-width="1.2"/>
<text x="4.67" y="11.12" font-size="17.00" textLength="9.57" lengthAdjust="spacingAndGlyphs">A</text>
<text x="395.23" y="11.43" font-size="17.00" textLength="9.82" lengthAdjust="spacingAndGlyphs">B</text>
<text x="31.23" y="33.60" font-size="17.00" textLength="18.02" lengthAdjust="spacingAndGlyphs">15</text>
<text x="39.83" y="92.31" font-size="17.00" textLength="9.57" lengthAdjust="spacingAndGlyphs">8</text>
<text x="40.23" y="150.14" font-size="17.00" textLength="9.38" lengthAdjust="spacingAndGlyphs">1</text>
<text x="31.15" y="208.08" font-size="17.00" textLength="18.37" lengthAdjust="spacingAndGlyphs">−1</text>
<text x="21.97" y="266.18" font-size="17.00" textLength="25.85" lengthAdjust="spacingAndGlyphs">−13</text>
<text x="59.57" y="294.41" font-size="17.00" textLength="27.49" lengthAdjust="spacingAndGlyphs">−20</text>
<text x="127.57" y="294.98" font-size="17.00" textLength="26.65" lengthAdjust="spacingAndGlyphs">−11</text>
<text x="199.33" y="295.02" font-size="17.00" textLength="17.48" lengthAdjust="spacingAndGlyphs">−2</text>
<text x="268.60" y="297.11" font-size="17.00" textLength="8.97" lengthAdjust="spacingAndGlyphs">7</text>
<text x="328.81" y="297.24" font-size="17.00" textLength="18.58" lengthAdjust="spacingAndGlyphs">16</text>
<text x="181.21" y="319.75" font-size="17.50" textLength="58.64" lengthAdjust="spacingAndGlyphs">UMAP_1</text>
<text transform="translate(12.84,174.27) rotate(-90)" font-size="18.50" textLength="58.69" lengthAdjust="spacingAndGlyphs">UMAP_2</text>
<text x="243.29" y="72.52" font-size="16.00" font-style="italic" textLength="21.74" lengthAdjust="spacingAndGlyphs">K.p</text>
<text x="210.07" y="159.96" font-size="16.00" font-style="italic" textLength="19.80" lengthAdjust="spacingAndGlyphs">P.a</text>
<text x="306.19" y="142.90" font-size="16.00" font-style="italic" textLength="18.98" lengthAdjust="spacingAndGlyphs">E.c</text>
<text x="88.62" y="211.58" font-size="16.00" font-style="italic" textLength="21.55" lengthAdjust="spacingAndGlyphs">A.b</text>
<text x="217.65" y="257.15" font-size="16.00" font-style="italic" textLength="19.21" lengthAdjust="spacingAndGlyphs">S.a</text>
<text x="421.73" y="38.41" font-size="17.00" textLength="27.48" lengthAdjust="spacingAndGlyphs">900</text>
<text x="421.91" y="114.07" font-size="17.00" textLength="26.52" lengthAdjust="spacingAndGlyphs">600</text>
<text x="421.11" y="190.41" font-size="17.00" textLength="27.10" lengthAdjust="spacingAndGlyphs">300</text>
<text x="440.13" y="266.63" font-size="17.00" textLength="8.43" lengthAdjust="spacingAndGlyphs">0</text>
<text x="478.63" y="295.26" font-size="16.00" font-style="italic" textLength="21.03" lengthAdjust="spacingAndGlyphs">A.b</text>
<text x="537.77" y="295.30" font-size="16.00" font-style="italic" textLength="19.70" lengthAdjust="spacingAndGlyphs">E.c</text>
<text x="598.53" y="295.10" font-size="16.00" font-style="italic" textLength="20.72" lengthAdjust="spacingAndGlyphs">K.p</text>
<text x="656.01" y="295.81" font-size="16.00" font-style="italic" textLength="19.93" lengthAdjust="spacingAndGlyphs">S.a</text>
<text x="717.93" y="295.70" font-size="16.00" font-style="italic" textLength="19.80" lengthAdjust="spacingAndGlyphs">P.a</text>
<text x="580.50" y="316.12" font-size="17.00" textLength="53.75" lengthAdjust="spacingAndGlyphs">Species</text>
<text transform="translate(409.58,188.04) rotate(-90)" font-size="20.00" textLength="79.58" lengthAdjust="spacingAndGlyphs">Gene count</text>
<text x="476.75" y="53.42" font-size="17.00" textLength="27.39" lengthAdjust="spacingAndGlyphs">449</text>
<text x="533.17" y="118.99" font-size="17.00" textLength="27.53" lengthAdjust="spacingAndGlyphs">248</text>
<text x="595.03" y="162.60" font-size="17.00" textLength="27.74" lengthAdjust="spacingAndGlyphs">155</text>
<text x="654.41" y="100.61" font-size="17.00" textLength="26.98" lengthAdjust="spacingAndGlyphs">303</text>
<text x="711.15" y="128.82" font-size="17.00" textLength="28.00" lengthAdjust="spacingAndGlyphs">166</text>
</svg></body></html>
